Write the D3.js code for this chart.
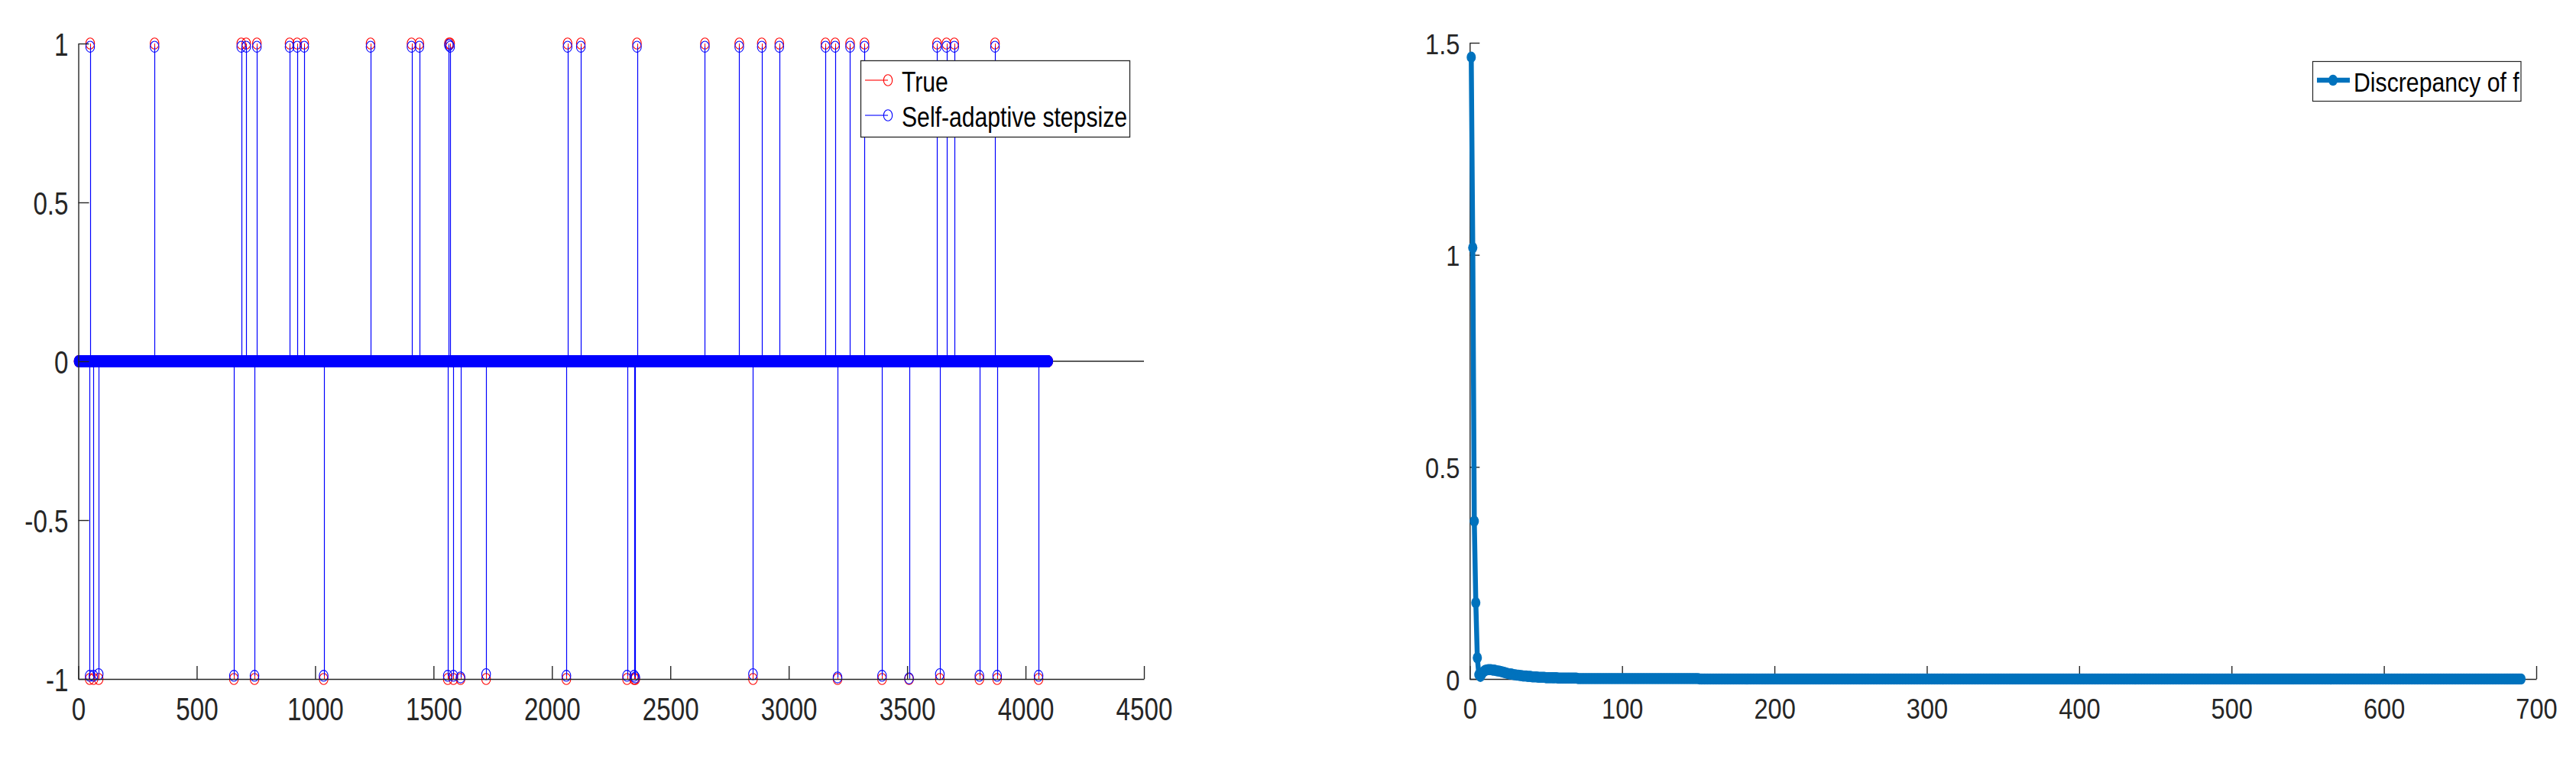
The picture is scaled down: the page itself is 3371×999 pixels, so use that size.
<!DOCTYPE html>
<html><head><meta charset="utf-8">
<script src="https://cdn.jsdelivr.net/npm/d3@7"></script>
<style>html,body{margin:0;padding:0;background:#fff;} svg{display:block;}</style>
</head><body>
<svg id="chart" width="3371" height="999"></svg>
<script>
// ---------- Left panel data (sparse signal of length 4096) ----------
const signalLength = 4096;
const spikeIndex = [48,50,64,86,322,657,688,709,744,754,892,924,954,1036,1234,1407,1440,1560,1565,1570,1584,1614,1722,2061,2066,2122,2317,2347,2352,2359,2646,2791,2849,2886,2960,3155,3196,3206,3259,3320,3394,3508,3626,3638,3666,3699,3805,3871,3880,4055];
const trueValue = [-1,1,-1,-1,1,-1,1,1,-1,1,1,1,1,-1,1,1,1,-1,1,1,-1,-1,-1,-1,1,1,-1,-1,-1,1,1,1,-1,1,1,1,1,-1,1,1,-1,-1,1,-1,1,1,-1,1,-1,-1];
const estValue = [-0.99,0.99,-0.99,-0.985,0.99,-0.99,0.99,0.99,-0.99,0.99,0.99,0.99,0.99,-0.99,0.99,0.99,0.99,-0.99,0.995,0.99,-0.99,-0.995,-0.985,-0.99,0.99,0.99,-0.99,-0.99,-0.995,0.99,0.99,0.99,-0.985,0.99,0.99,0.99,0.99,-0.995,0.99,0.99,-0.99,-0.998,0.99,-0.985,0.99,0.99,-0.99,0.99,-0.99,-0.99];
const leftXTicks = [0,500,1000,1500,2000,2500,3000,3500,4000,4500];
const leftYTicks = [-1,-0.5,0,0.5,1];
const leftLegend = ["True","Self-adaptive stepsize"];

// ---------- Right panel data (discrepancy per iteration) ----------
const discrepancy = [
1.466,1.017,0.372,0.180,0.050,0.010,0.006,0.012,0.017,0.020,
0.021,0.022,0.022,0.022,0.021,0.021,0.020,0.019,0.019,0.018,
0.017,0.016,0.015,0.014,0.013,0.012,0.012,0.011,0.010,0.010,
0.009,0.009,0.008,0.008,0.007,0.007,0.007,0.006,0.006,0.006,
0.005,0.005,0.005,0.005,0.004,0.004,0.004,0.004,0.004,0.003,
0.003,0.003,0.003,0.003,0.003,0.003,0.003,0.002,0.002,0.002,
0.002,0.002,0.002,0.002,0.002,0.002,0.002,0.002,0.002,0.002,
0.001,0.001,0.001,0.001,0.001,0.001,0.001,0.001,0.001,0.001,0.001,0.001,0.001,0.001,0.001,0.001,0.001,0.001,0.001,0.001,
0.001,0.001,0.001,0.001,0.001,0.001,0.001,0.001,0.001,0.001,0.001,0.001,0.001,0.001,0.001,0.001,0.001,0.001,0.001,0.001,
0.001,0.001,0.001,0.001,0.001,0.001,0.001,0.001,0.001,0.001,0.001,0.001,0.001,0.001,0.001,0.001,0.001,0.001,0.001,0.001,
0.001,0.001,0.001,0.001,0.001,0.001,0.001,0.001,0.001,0.001,0.001,0.001,0.001,0.001,0.001,0.001,0.001,0.001,0.001,0.001,
0,0,0,0,0,0,0,0,0,0, 0,0,0,0,0,0,0,0,0,0,
0,0,0,0,0,0,0,0,0,0, 0,0,0,0,0,0,0,0,0,0,
0,0,0,0,0,0,0,0,0,0, 0,0,0,0,0,0,0,0,0,0,
0,0,0,0,0,0,0,0,0,0, 0,0,0,0,0,0,0,0,0,0,
0,0,0,0,0,0,0,0,0,0, 0,0,0,0,0,0,0,0,0,0,
0,0,0,0,0,0,0,0,0,0, 0,0,0,0,0,0,0,0,0,0,
0,0,0,0,0,0,0,0,0,0, 0,0,0,0,0,0,0,0,0,0,
0,0,0,0,0,0,0,0,0,0, 0,0,0,0,0,0,0,0,0,0,
0,0,0,0,0,0,0,0,0,0, 0,0,0,0,0,0,0,0,0,0,
0,0,0,0,0,0,0,0,0,0, 0,0,0,0,0,0,0,0,0,0,
0,0,0,0,0,0,0,0,0,0, 0,0,0,0,0,0,0,0,0,0,
0,0,0,0,0,0,0,0,0,0, 0,0,0,0,0,0,0,0,0,0,
0,0,0,0,0,0,0,0,0,0, 0,0,0,0,0,0,0,0,0,0,
0,0,0,0,0,0,0,0,0,0, 0,0,0,0,0,0,0,0,0,0,
0,0,0,0,0,0,0,0,0,0, 0,0,0,0,0,0,0,0,0,0,
0,0,0,0,0,0,0,0,0,0, 0,0,0,0,0,0,0,0,0,0,
0,0,0,0,0,0,0,0,0,0, 0,0,0,0,0,0,0,0,0,0,
0,0,0,0,0,0,0,0,0,0, 0,0,0,0,0,0,0,0,0,0,
0,0,0,0,0,0,0,0,0,0, 0,0,0,0,0,0,0,0,0,0,
0,0,0,0,0,0,0,0,0,0, 0,0,0,0,0,0,0,0,0,0,
0,0,0,0,0,0,0,0,0,0, 0,0,0,0,0,0,0,0,0,0,
0,0,0,0,0,0,0,0,0,0, 0,0,0,0,0,0,0,0,0,0,
0,0,0,0,0,0,0,0,0,0, 0,0,0,0,0,0,0,0,0,0,
0,0,0,0,0,0,0,0,0,0, 0,0,0,0,0,0,0,0,0,0,
0,0,0,0,0,0,0,0,0,0, 0,0,0,0,0,0,0,0,0,0,
0,0,0,0,0,0,0,0,0,0, 0,0,0,0,0,0,0,0,0,0,
0,0,0,0,0,0,0,0,0,0, 0,0,0,0,0,0,0,0,0,0
];
const rightXTicks = [0,100,200,300,400,500,600,700];
const rightYTicks = [0,0.5,1,1.5];
const rightLegend = ["Discrepancy of f"];

// ---------- Rendering ----------
const FONT = "'Liberation Sans', Arial, Helvetica, sans-serif";
const AXIS = "#262626";
const svg = d3.select("#chart");
svg.append("rect").attr("width",3371).attr("height",999).attr("fill","#fff");

const fmt = d => String(d);

function styleAxis(g, fontSize, sx, isLeft, padding, dy) {
  g.attr("font-family", FONT).attr("font-size", fontSize);
  g.select(".domain").attr("stroke", AXIS).attr("stroke-width", 1.4);
  g.selectAll(".tick line").attr("stroke", AXIS).attr("stroke-width", 1.4);
  const t = g.selectAll(".tick text").attr("fill", AXIS).attr("transform", `scale(${sx},1)`);
  if (isLeft) t.attr("x", -padding / sx).attr("dy", dy);
}

// Build full signals from the sparse spike lists
const idx = d3.range(1, signalLength + 1);
const spikeMapTrue = new Map(spikeIndex.map((k, i) => [k, trueValue[i]]));
const spikeMapEst = new Map(spikeIndex.map((k, i) => [k, estValue[i]]));
const trueSignal = idx.map(i => ({i, v: spikeMapTrue.has(i) ? spikeMapTrue.get(i) : 0}));
const estSignal = idx.map(i => ({i, v: spikeMapEst.has(i) ? spikeMapEst.get(i) : 0}));

// Left panel
const xL = d3.scaleLinear().domain([0, 4500]).range([102.5, 1497]);
const yL = d3.scaleLinear().domain([-1, 1]).range([889, 57]);
const gL = svg.append("g");

// stem baseline
gL.append("line").attr("x1", xL(0)).attr("x2", xL(4500)).attr("y1", yL(0)).attr("y2", yL(0))
  .attr("stroke", AXIS).attr("stroke-width", 1.4);

function drawStem(data, color, sw) {
  const g = gL.append("g");
  g.selectAll("line").data(data.filter(d => d.v !== 0)).join("line")
    .attr("x1", d => Math.round(xL(d.i)) + 0.5).attr("x2", d => Math.round(xL(d.i)) + 0.5)
    .attr("y1", yL(0)).attr("y2", d => yL(d.v))
    .attr("stroke", color).attr("stroke-width", sw);
  g.selectAll("ellipse").data(data).join("ellipse")
    .attr("cx", d => xL(d.i)).attr("cy", d => yL(d.v))
    .attr("rx", 5.7).attr("ry", 7.2)
    .attr("fill", "none").attr("stroke", color).attr("stroke-width", 1.1);
}
drawStem(trueSignal, "#ff0000", 1);
drawStem(estSignal, "#0000ff", 1.2);

const axLx = gL.append("g").attr("transform", `translate(0,${yL(-1)})`)
  .call(d3.axisBottom(xL).tickValues(leftXTicks).tickFormat(fmt).tickSizeInner(-17).tickSizeOuter(0).tickPadding(24));
styleAxis(axLx, 42, 0.79, false);
const axLy = gL.append("g").attr("transform", `translate(${xL(0)},0)`)
  .call(d3.axisLeft(yL).tickValues(leftYTicks).tickFormat(fmt).tickSizeInner(-14).tickSizeOuter(0).tickPadding(13));
styleAxis(axLy, 42, 0.79, true, 13, "0.37em");

// left legend
const lg = svg.append("g");
lg.append("rect").attr("x", 1126.5).attr("y", 79.5).attr("width", 352).attr("height", 100)
  .attr("fill", "#fff").attr("stroke", AXIS).attr("stroke-width", 1.3);
const legColors = ["#ff0000", "#0000ff"];
const legY = [105, 151];
leftLegend.forEach((name, i) => {
  lg.append("line").attr("x1", 1132).attr("x2", 1162).attr("y1", legY[i]).attr("y2", legY[i])
    .attr("stroke", legColors[i]).attr("stroke-width", 1.1);
  lg.append("ellipse").attr("cx", 1162).attr("cy", legY[i]).attr("rx", 5.7).attr("ry", 7.2)
    .attr("fill", "none").attr("stroke", legColors[i]).attr("stroke-width", 1.1);
  lg.append("text").attr("transform", `translate(1180,${legY[i] + 15}) scale(0.815,1)`)
    .attr("font-family", FONT).attr("font-size", 37).attr("fill", "#000").text(name);
});

// Right panel
const xR = d3.scaleLinear().domain([0, 700]).range([1923.3, 3319]);
const yR = d3.scaleLinear().domain([0, 1.5]).range([889, 56]);
const gR = svg.append("g");
const iters = discrepancy.map((v, k) => ({i: k + 1, v}));

const axRx = gR.append("g").attr("transform", `translate(0,${yR(0)})`)
  .call(d3.axisBottom(xR).tickValues(rightXTicks).tickFormat(fmt).tickSizeInner(-17).tickSizeOuter(0).tickPadding(26));
styleAxis(axRx, 37, 0.88, false);
const axRy = gR.append("g").attr("transform", `translate(${xR(0)},0)`)
  .call(d3.axisLeft(yR).tickValues(rightYTicks).tickFormat(fmt).tickSizeInner(-13).tickSizeOuter(0).tickPadding(13));
styleAxis(axRy, 37, 0.88, true, 13, "0.38em");

const BLUE = "#0072bd";
gR.append("path").datum(iters)
  .attr("d", d3.line().x(d => xR(d.i)).y(d => yR(d.v)))
  .attr("fill", "none").attr("stroke", BLUE).attr("stroke-width", 6.5).attr("stroke-linejoin", "round");
gR.append("g").selectAll("ellipse").data(iters).join("ellipse")
  .attr("cx", d => xR(d.i)).attr("cy", d => yR(d.v))
  .attr("rx", 6).attr("ry", 7.3).attr("fill", BLUE);

// right legend
const rg = svg.append("g");
rg.append("rect").attr("x", 3026.5).attr("y", 80.5).attr("width", 272.5).attr("height", 52)
  .attr("fill", "#fff").attr("stroke", AXIS).attr("stroke-width", 1.2);
rg.append("line").attr("x1", 3032).attr("x2", 3075).attr("y1", 105).attr("y2", 105)
  .attr("stroke", BLUE).attr("stroke-width", 6.5);
rg.append("ellipse").attr("cx", 3053).attr("cy", 105).attr("rx", 6).attr("ry", 7.3).attr("fill", BLUE);
rg.append("text").attr("transform", "translate(3080,120) scale(0.84,1)")
  .attr("font-family", FONT).attr("font-size", 36).attr("fill", "#000").text(rightLegend[0]);
</script>
</body></html>
